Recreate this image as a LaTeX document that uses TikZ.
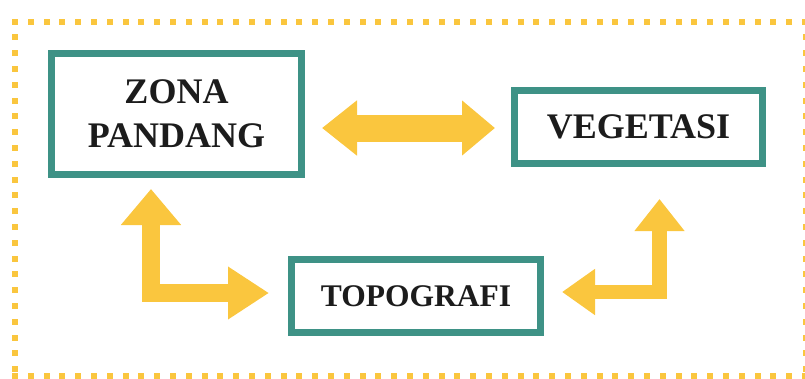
\documentclass[tikz,border=0pt]{standalone}
\usepackage{fontspec}
\setmainfont{Liberation Serif}
\usetikzlibrary{arrows.meta}
\definecolor{gold}{RGB}{250,198,62}
\definecolor{teal}{RGB}{62,146,134}
\definecolor{ink}{RGB}{28,28,28}
\begin{document}
\begin{tikzpicture}[x=1pt,y=-1pt,
  box/.style={draw=teal,line width=7pt,fill=white,text=ink,align=center,
    inner sep=0pt,font=\bfseries\fontsize{36}{44}\selectfont},
  smallbox/.style={box,font=\bfseries\fontsize{31.5}{38}\selectfont},
  dot/.style={fill=gold},
  block/.style={draw=gold,line join=miter,line cap=butt}]
\useasboundingbox (0,0) rectangle (805,378);

% dotted frame made of small squares
\foreach \i in {0,...,50}{
  \fill[dot] (15+15.8*\i-3,21.5-3) rectangle ++(6,6);
  \fill[dot] (15+15.8*\i-3,376-3) rectangle ++(6,6);
}
\foreach \i in {1,...,22}{
  \fill[dot] (15-3,21.5+15.8*\i-3) rectangle ++(6,6);
  \fill[dot] (806-3,21.5+15.8*\i-3) rectangle ++(6,6);
}

% boxes
\node[box,minimum width=250pt,minimum height=121pt] (zona) at (176.5,114) {ZONA\\PANDANG};
\node[box,minimum width=248pt,minimum height=73pt] (veg) at (638.5,127) {VEGETASI};
\node[smallbox,minimum width=249pt,minimum height=73pt] (topo) at (416,296) {TOPOGRAFI};

% arrow end points
\coordinate (h1) at (322,128);
\coordinate (h2) at (495,128);
\coordinate (l1) at (151,189);
\coordinate (l2) at (269,293);
\coordinate (r1) at (562,292);
\coordinate (r2) at (659.5,199);

% block arrows
\draw[block,line width=27pt,
  {Triangle[length=35pt,width=53pt]}-{Triangle[length=33pt,width=53pt]}] (h1) -- (h2);
\draw[block,line width=17.5pt,
  {Triangle[length=36pt,width=58pt]}-{Triangle[length=41pt,width=50pt]}] (l1) |- (l2);
\draw[block,line width=14.5pt,
  {Triangle[length=33pt,width=44pt]}-{Triangle[length=32pt,width=48pt]}] (r1) -| (r2);
\end{tikzpicture}
\end{document}
